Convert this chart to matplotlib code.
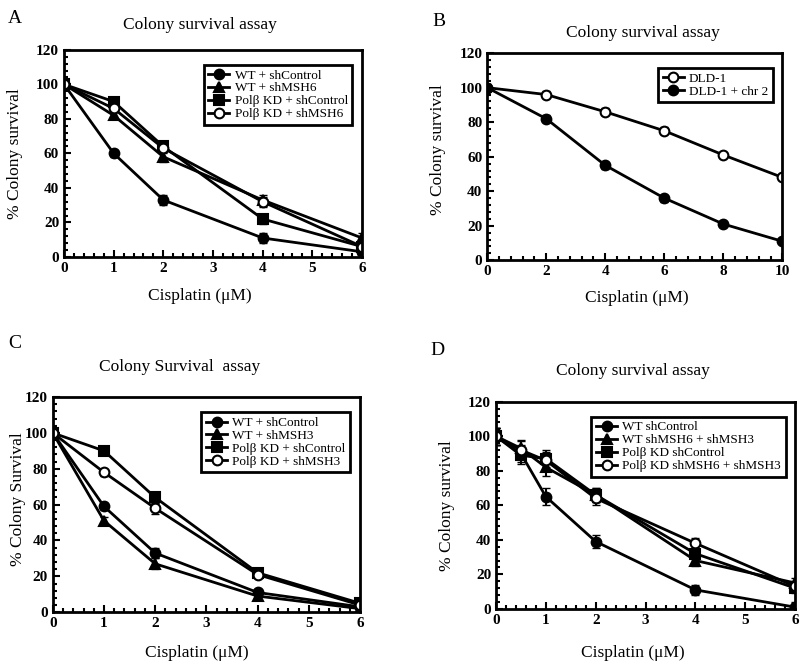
import matplotlib
matplotlib.use("Agg")
import matplotlib.pyplot as plt
from matplotlib.ticker import MultipleLocator

plt.rcParams['font.family'] = ['Liberation Serif', 'DejaVu Serif']

# Panel A
a_x = [0, 1, 2, 4, 6]
a_wt_ctrl = [100, 60, 33, 11, 3]
a_wt_msh6 = [100, 82, 58, 33, 11]
a_pol_ctrl = [100, 90, 64, 22, 6]
a_pol_msh6 = [100, 86, 63, 32, 6]
a_err = [3, 2, 3, 3, 3]
a_labels = ['WT + shControl', 'WT + shMSH6', 'Polβ KD + shControl', 'Polβ KD + shMSH6']

# Panel B
b_x = [0, 2, 4, 6, 8, 10]
b_dld1 = [100, 96, 86, 75, 61, 48]
b_dld1_chr2 = [100, 82, 55, 36, 21, 11]
b_err = [2, 2, 2, 2, 1, 1]
b_labels = ['DLD-1', 'DLD-1 + chr 2']

# Panel C
c_x = [0, 1, 2, 4, 6]
c_wt_ctrl = [100, 59, 33, 11, 3]
c_wt_msh3 = [100, 51, 27, 9, 2]
c_pol_ctrl = [100, 90, 64, 22, 5]
c_pol_msh3 = [100, 78, 58, 21, 4]
c_err = [3, 2, 3, 2, 2]
c_labels = ['WT + shControl', 'WT + shMSH3', 'Polβ KD + shControl', 'Polβ KD + shMSH3']

# Panel D
d_x = [0, 0.5, 1, 2, 4, 6]
d_wt_ctrl = [100, 90, 65, 39, 11, 1]
d_wt_msh = [100, 93, 82, 66, 28, 15]
d_pol_ctrl = [100, 89, 87, 66, 32, 12]
d_pol_msh = [100, 92, 86, 64, 38, 13]
d_err = [5, 5, 5, 4, 3, 3]
d_labels = ['WT shControl', 'WT shMSH6 + shMSH3', 'Polβ KD shControl', 'Polβ KD shMSH6 + shMSH3']

styles = [dict(marker='o', mfc='black'), dict(marker='^', mfc='black'),
          dict(marker='s', mfc='black'), dict(marker='o', mfc='white')]


def draw(ax, x, series, labels, errs, styles, xmax, xstep):
    for ys, lab, st in zip(series, labels, styles):
        ax.errorbar(x, ys, yerr=errs, fmt='none', ecolor='black', elinewidth=1.5, capsize=3)
        ax.plot(x, ys, color='black', lw=2, ms=7, mec='black', mew=1.5, label=lab, **st)
    ax.set_xlim(0, xmax)
    ax.set_ylim(0, 120)
    ax.xaxis.set_major_locator(MultipleLocator(xstep))
    ax.yaxis.set_major_locator(MultipleLocator(20))
    ax.xaxis.set_minor_locator(MultipleLocator(xstep / 5))
    ax.yaxis.set_minor_locator(MultipleLocator(4))
    ax.tick_params(which='both', direction='in', top=False, right=False, width=1.5)
    ax.tick_params(which='major', length=5, labelsize=11)
    ax.tick_params(which='minor', length=3)
    for lab in ax.get_xticklabels() + ax.get_yticklabels():
        lab.set_fontweight('bold')
    for s in ax.spines.values():
        s.set_linewidth(2)
    leg = ax.legend(loc='upper right', fontsize=9.5, handlelength=1.6, handletextpad=0.4,
                    borderpad=0.35, labelspacing=0.05, fancybox=False, framealpha=1,
                    edgecolor='black', bbox_to_anchor=(0.99, 0.96))
    leg.get_frame().set_linewidth(2)


fig = plt.figure(figsize=(8, 6.64), dpi=100)

axA = fig.add_axes([0.080, 0.613, 0.3725, 0.312])
draw(axA, a_x, [a_wt_ctrl, a_wt_msh6, a_pol_ctrl, a_pol_msh6], a_labels, a_err, styles, 6, 1)

axB = fig.add_axes([0.609, 0.608, 0.369, 0.312])
draw(axB, b_x, [b_dld1, b_dld1_chr2], b_labels, b_err,
     [dict(marker='o', mfc='white'), dict(marker='o', mfc='black')], 10, 2)

axC = fig.add_axes([0.066, 0.078, 0.384, 0.324])
draw(axC, c_x, [c_wt_ctrl, c_wt_msh3, c_pol_ctrl, c_pol_msh3], c_labels, c_err, styles, 6, 1)

axD = fig.add_axes([0.620, 0.083, 0.374, 0.312])
draw(axD, d_x, [d_wt_ctrl, d_wt_msh, d_pol_ctrl, d_pol_msh], d_labels, d_err, styles, 6, 1)

# panel letters and titles
fig.text(0.01, 0.985, 'A', fontsize=14, va='top')
fig.text(0.25, 0.975, 'Colony survival assay', fontsize=12.5, ha='center', va='top')
fig.text(0.541, 0.980, 'B', fontsize=14, va='top')
fig.text(0.804, 0.962, 'Colony survival assay', fontsize=12.5, ha='center', va='top')
fig.text(0.01, 0.495, 'C', fontsize=14, va='top')
fig.text(0.225, 0.460, 'Colony Survival  assay', fontsize=12.5, ha='center', va='top')
fig.text(0.538, 0.485, 'D', fontsize=14, va='top')
fig.text(0.791, 0.454, 'Colony survival assay', fontsize=12.5, ha='center', va='top')

# axis labels
for xx, yy in [(0.25, 0.554), (0.796, 0.551), (0.246, 0.017), (0.791, 0.017)]:
    fig.text(xx, yy, 'Cisplatin (μM)', fontsize=12.5, ha='center', va='center')
for xx, yy, t in [(0.019, 0.769, '% Colony survival'), (0.548, 0.774, '% Colony survival'),
                  (0.023, 0.248, '% Colony Survival'), (0.559, 0.239, '% Colony survival')]:
    fig.text(xx, yy, t, fontsize=12.5, ha='center', va='center', rotation=90)

fig.savefig('out.png', dpi=100)
